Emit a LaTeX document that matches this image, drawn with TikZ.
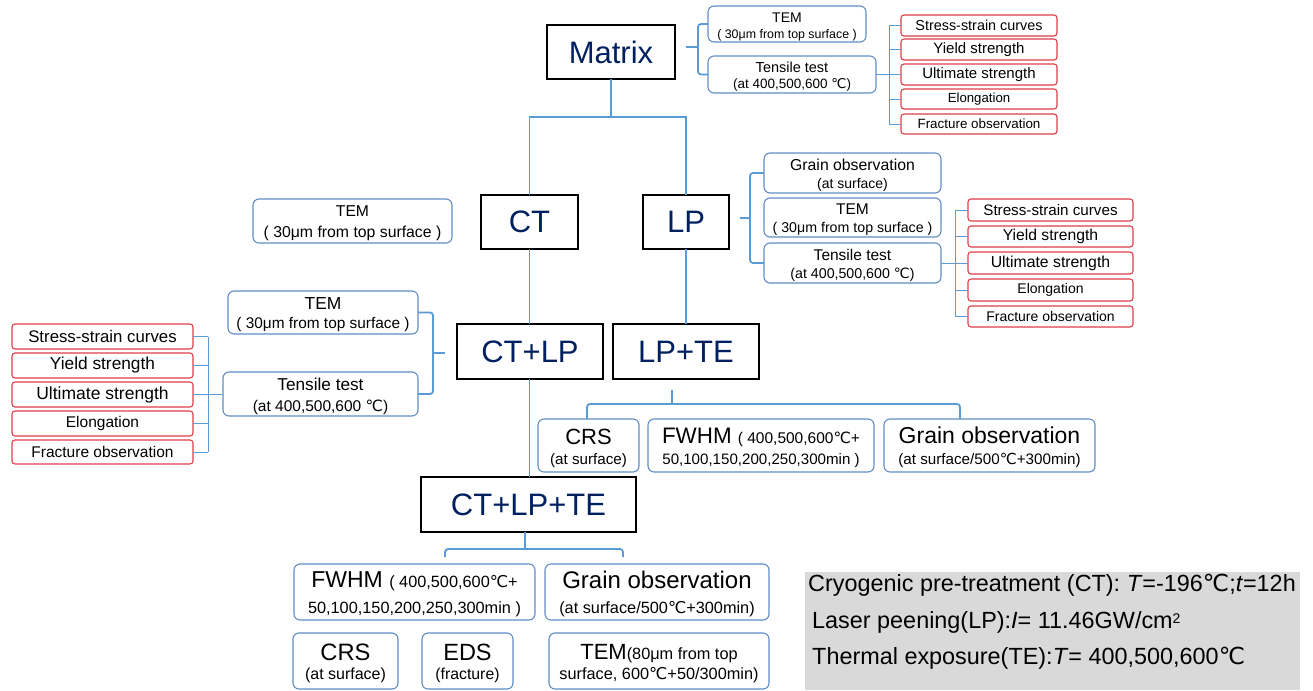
\documentclass[tikz,border=0pt]{standalone}
\usepackage{fontspec}
\setmainfont{Liberation Sans}
\newfontfamily\dv{DejaVu Sans}
\newcommand\dC{{\dv ℃}}
\newcommand\fs[2]{\fontsize{#1pt}{#2pt}\selectfont}
\newcommand\st{\rule{0pt}{\dimexpr\fontcharht\font`\(+5pt\relax}}
\definecolor{navy}{RGB}{0,32,96}
\definecolor{bbord}{RGB}{96,140,196}
\definecolor{lblue}{RGB}{91,155,213}
\definecolor{rbord}{RGB}{222,62,72}
\definecolor{legbg}{RGB}{217,217,217}
\tikzset{
  blk/.style={draw=black, line width=2pt, text=navy, font=\fs{31}{34}, inner sep=0pt, outer sep=0pt, anchor=north west},
  bbox/.style={draw=bbord, line width=1.1pt, rounded corners=6pt, align=center, inner sep=0pt, outer sep=0pt, anchor=north west},
  bl/.style={font=\fs{10}{#1}},
  rbox/.style={draw=rbord, line width=1.1pt, rounded corners=3pt, inner sep=0pt, outer sep=0pt, anchor=north west},
  conn/.style={draw=lblue, line width=1.7pt},
  thinc/.style={draw=lblue, line width=0.9pt},
  brc/.style={draw=lblue, line width=1.8pt, rounded corners=3pt},
  legtxt/.style={font=\fs{23.4}{26}, inner sep=0pt, anchor=base west},
}
\begin{document}
\begin{tikzpicture}[x=1pt,y=-1pt]
\useasboundingbox (0,0) rectangle (1313,690);

% ---------- main black boxes ----------
\node[blk, minimum width=128pt, minimum height=54pt] (matrix) at (547,25) {Matrix};
\node[blk, minimum width=97pt, minimum height=54pt] (ct) at (481,195) {CT};
\node[blk, minimum width=86pt, minimum height=54pt] (lp) at (643,195) {LP};
\node[blk, minimum width=146pt, minimum height=55pt] (ctlp) at (457,324) {CT+LP};
\node[blk, minimum width=146pt, minimum height=55pt] (lpte) at (613,324) {LP+TE};
\node[blk, minimum width=215pt, minimum height=55pt] (ctlpte) at (421,477) {CT+LP+TE};

% ---------- Matrix branch ----------
\node[bbox, bl=16, minimum width=158pt, minimum height=36pt] (mtem) at (708,6)
  {\fs{14}{16}\st TEM\\\fs{12.4}{16}( 30μm from top surface )};
\node[bbox, bl=16, minimum width=168pt, minimum height=37pt] (mten) at (708,56)
  {\fs{14.5}{16}\st Tensile test\\\fs{13.5}{16}(at 400,500,600 \dC)};
\node[rbox, minimum width=156pt, minimum height=21pt, font=\fs{14.4}{16}] (mss) at (901,15) {Stress-strain curves};
\node[rbox, minimum width=156pt, minimum height=21pt, font=\fs{15}{16}] (mys) at (901,39) {Yield strength};
\node[rbox, minimum width=156pt, minimum height=21pt, font=\fs{15}{16}] (mus) at (901,64) {Ultimate strength};
\node[rbox, minimum width=156pt, minimum height=20pt, font=\fs{13.2}{16}] (mel) at (901,89) {Elongation};
\node[rbox, minimum width=156pt, minimum height=20pt, font=\fs{13.4}{16}] (mfo) at (901,114) {Fracture observation};

% ---------- standalone TEM ----------
\node[bbox, bl=21, minimum width=199pt, minimum height=44pt] (stem) at (253,199)
  {\fs{15.7}{18}\st TEM\\\fs{15.8}{21}( 30μm from top surface )};

% ---------- LP branch ----------
\node[bbox, bl=18, minimum width=177pt, minimum height=40pt] (lgr) at (764,153)
  {\fs{15.8}{18}\st Grain observation\\\fs{14}{18}(at surface)};
\node[bbox, bl=18, minimum width=177pt, minimum height=39pt] (ltem) at (764,198)
  {\fs{15.5}{18}\st TEM\\\fs{14.2}{18}( 30μm from top surface )};
\node[bbox, bl=18, minimum width=177pt, minimum height=40pt] (lten) at (764,243)
  {\fs{15.5}{18}\st Tensile test\\\fs{14.2}{18}(at 400,500,600 \dC)};
\node[rbox, minimum width=165pt, minimum height=22pt, font=\fs{15.2}{17}] (lss) at (968,199) {Stress-strain curves};
\node[rbox, minimum width=165pt, minimum height=21pt, font=\fs{15.7}{17}] (lys) at (968,226) {Yield strength};
\node[rbox, minimum width=165pt, minimum height=22pt, font=\fs{15.8}{17}] (lus) at (968,252) {Ultimate strength};
\node[rbox, minimum width=165pt, minimum height=22pt, font=\fs{14}{17}] (lel) at (968,279) {Elongation};
\node[rbox, minimum width=165pt, minimum height=21pt, font=\fs{14}{17}] (lfo) at (968,306) {Fracture observation};

% ---------- CT+LP branch ----------
\node[bbox, bl=19, minimum width=190pt, minimum height=43pt] (ctem) at (228,291)
  {\fs{17.4}{19}\st TEM\\\fs{15.4}{19}( 30μm from top surface )};
\node[bbox, bl=21, minimum width=195pt, minimum height=44pt] (cten) at (223,372)
  {\fs{17.2}{19}\st Tensile test\\\fs{15.5}{21}(at 400,500,600 \dC)};
\node[rbox, minimum width=181pt, minimum height=25pt, font=\fs{16.8}{19}] (css) at (12,324) {Stress-strain curves};
\node[rbox, minimum width=181pt, minimum height=25pt, font=\fs{17.3}{19}] (cys) at (12,353) {Yield strength};
\node[rbox, minimum width=181pt, minimum height=25pt, font=\fs{17.5}{19}] (cus) at (12,382) {Ultimate strength};
\node[rbox, minimum width=181pt, minimum height=25pt, font=\fs{15.5}{19}] (cel) at (12,411) {Elongation};
\node[rbox, minimum width=181pt, minimum height=24pt, font=\fs{15.5}{19}] (cfo) at (12,440) {Fracture observation};

% ---------- LP+TE branch ----------
\node[bbox, bl=20, minimum width=101pt, minimum height=53pt] (tcrs) at (538,419)
  {\fs{22}{24}\st CRS\\\fs{15.2}{20}(at surface)};
\node[bbox, bl=21, minimum width=226pt, minimum height=53pt] (tfw) at (648,419)
  {\fs{22.4}{24}\st FWHM {\fs{15.5}{24}( 400,500,600\dC+}\\\fs{15.1}{21}50,100,150,200,250,300min )};
\node[bbox, bl=21, minimum width=211pt, minimum height=53pt] (tgr) at (884,419)
  {\fs{23}{24}\st Grain observation\\\fs{15.2}{21}(at surface/500\dC+300min)};

% ---------- CT+LP+TE branch ----------
\node[bbox, bl=26, minimum width=241pt, minimum height=56pt] (bfw) at (294,564)
  {\fs{23}{25}\st FWHM {\fs{16.3}{25}( 400,500,600\dC+}\\\fs{16.3}{26}50,100,150,200,250,300min )};
\node[bbox, bl=25, minimum width=224pt, minimum height=56pt] (bgr) at (545,564)
  {\fs{24}{25}\st Grain observation\\\fs{16.3}{25}(at surface/500\dC+300min)};
\node[bbox, bl=19, minimum width=105pt, minimum height=56pt] (bcrs) at (293,633)
  {\fs{23.7}{25}\st CRS\\\fs{16}{19}(at surface)};
\node[bbox, bl=19, minimum width=91pt, minimum height=56pt] (beds) at (422,633)
  {\fs{23.5}{25}\st EDS\\\fs{15.8}{19}(fracture)};
\node[bbox, bl=20, minimum width=220pt, minimum height=56pt] (btem) at (549,633)
  {\fs{22}{25}\st TEM{\fs{16.3}{25}(80μm from top}\\\fs{16.3}{20}surface, 600\dC+50/300min)};

% ---------- legend ----------
\node[fill=legbg, inner sep=0pt, outer sep=0pt, minimum width=495pt, minimum height=118pt, anchor=north west] (legend) at (805,572) {};
\node[legtxt] (leg1) at (808,591) {Cryogenic pre-treatment (CT): \textit{T}=-196\dC;\textit{t}=12h};
\node[legtxt] (leg2) at (812,628) {Laser peening(LP):\textit{I}= 11.46GW/cm\raisebox{5pt}{\fs{14}{14}2}};
\node[legtxt] (leg3) at (812,664) {Thermal exposure(TE):\textit{T}= 400,500,600\dC};

% ---------- free coordinates ----------
\coordinate (mj) at (611,117);
\coordinate (mbr) at (698,0);
\coordinate (mtk) at (686,47);
\coordinate (mrv) at (889,0);
\coordinate (lbr) at (750,0);
\coordinate (ltk) at (740,218);
\coordinate (lrv) at (955,0);
\coordinate (cbr) at (433,0);
\coordinate (ctk) at (445,353);
\coordinate (crv) at (208,0);
\coordinate (tbl) at (587,404);
\coordinate (tbr) at (960,404);
\coordinate (ttk) at (672,390);
\coordinate (bbl) at (445,549);
\coordinate (bbr) at (623,549);
\coordinate (bbt) at (525,549);

% ---------- tree connectors ----------
\draw[conn] (matrix.south) -- (mj);
\draw[conn] (ct.north) |- (mj) -| (lp.north);
\draw[conn] (ct.south) -- (ct.south |- ctlp.north);
\draw[conn] (lp.south) -- (lp.south |- lpte.north);
\draw[conn] (ct.south |- ctlp.south) -- (ct.south |- ctlpte.north);

% ---------- braces ----------
\draw[brc] (mtem.west) -| (mbr |- mtk) |- (mten.west);
\draw[conn] (mtk) -- (mbr |- mtk);
\draw[brc] (lgr.west) -| (lbr |- ltk) |- (lten.west);
\draw[conn] (ltk) -- (lbr |- ltk);
\draw[brc] (ctem.east) -| (cbr |- ctk) |- (cten.east);
\draw[conn] (ctk) -- (cbr |- ctk);
\draw[brc] (tcrs.north -| tbl) -- (tbl) -- (tbr) -- (tgr.north -| tbr);
\draw[conn] (ttk) -- (ttk |- tbl);
\draw[brc] ([yshift=7pt]bfw.north -| bbl) -- (bbl) -- (bbr) -- ([yshift=7pt]bgr.north -| bbr);
\draw[conn] (ctlpte.south -| bbt) -- (bbt);

% ---------- red-box connectors ----------
\draw[thinc] (mten.east) -- (mten.east -| mrv);
\draw[thinc] (mss.west -| mrv) -- (mfo.west -| mrv);
\foreach \n in {mss,mys,mus,mel,mfo} \draw[thinc] (\n.west -| mrv) -- (\n.west);
\draw[thinc] (lten.east) -- (lten.east -| lrv);
\draw[thinc] (lss.west -| lrv) -- (lfo.west -| lrv);
\foreach \n in {lss,lys,lus,lel,lfo} \draw[thinc] (\n.west -| lrv) -- (\n.west);
\draw[thinc] (cten.west) -- (cten.west -| crv);
\draw[thinc] (css.east -| crv) -- (cfo.east -| crv);
\foreach \n in {css,cys,cus,cel,cfo} \draw[thinc] (\n.east -| crv) -- (\n.east);
\end{tikzpicture}
\end{document}
